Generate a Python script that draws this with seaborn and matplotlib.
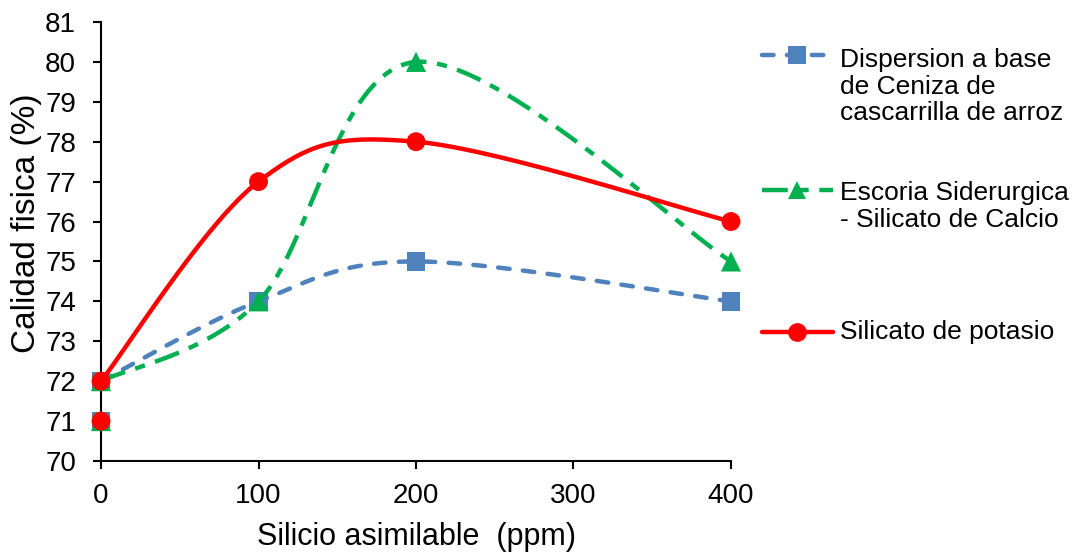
import numpy as np
import pandas as pd
import matplotlib
matplotlib.use("Agg")
import matplotlib.pyplot as plt
from matplotlib.lines import Line2D
import seaborn as sns

# Data
silicio = [0, 100, 200, 400]
ceniza = [72, 74, 75, 74]
escoria = [72, 74, 80, 75]
potasio = [72, 77, 78, 76]
testigo_x = [0]
testigo_y = [71]

series_names = [
    "Dispersion a base\nde Ceniza de\ncascarrilla de arroz",
    "Escoria Siderurgica\n- Silicato de Calcio",
    "Silicato de potasio",
]
colors = ["#4F81BD", "#00B050", "#FF0000"]
markers = ["s", "^", "o"]
linestyles = [(0, (2.6, 3.0)), (0, (5.8, 2.4, 2.3, 2.4)), "-"]


def smooth_excel(ax, xs, ys, n=40):
    # Excel-like smoothed line: cubic Bezier segments in screen space
    pts = ax.transData.transform(np.column_stack([xs, ys]))
    padded = np.vstack([pts[0], pts, pts[-1]])
    out = []
    t = np.linspace(0, 1, n)[:, None]
    for i in range(len(pts) - 1):
        p0, p3 = padded[i + 1], padded[i + 2]
        c1 = p0 + (padded[i + 2] - padded[i]) / 6.0
        c2 = p3 - (padded[i + 3] - padded[i + 1]) / 6.0
        seg = (1 - t) ** 3 * p0 + 3 * (1 - t) ** 2 * t * c1 + 3 * (1 - t) * t ** 2 * c2 + t ** 3 * p3
        out.append(seg if i == 0 else seg[1:])
    curve = ax.transData.inverted().transform(np.vstack(out))
    return curve[:, 0], curve[:, 1]


def main():
    sns.set_style("ticks")
    plt.rcParams["font.family"] = ["Liberation Sans", "DejaVu Sans"]
    plt.rcParams["text.color"] = "black"
    plt.rcParams["axes.labelcolor"] = "black"

    fig = plt.figure(figsize=(10.78, 5.55), dpi=100)
    ax = fig.add_axes([0.0937, 0.1694, 0.5844, 0.7910])
    ax.set_xlim(0, 400)
    ax.set_ylim(70, 81)

    all_y = [ceniza, escoria, potasio]
    for k, ys in enumerate(all_y):
        cx, cy = smooth_excel(ax, silicio, ys)
        df = pd.DataFrame({"x": cx, "y": cy})
        sns.lineplot(data=df, x="x", y="y", sort=False, estimator=None, ax=ax,
                     color=colors[k], linewidth=3.2, linestyle=linestyles[k],
                     dash_capstyle="round" if k == 0 else "butt",
                     clip_on=False, zorder=3 + k)
        pts = pd.DataFrame({"x": silicio + testigo_x, "y": ys + testigo_y})
        sns.scatterplot(data=pts, x="x", y="y", ax=ax, marker=markers[k],
                        s=185 if k != 1 else 210, color=colors[k], edgecolor="none",
                        linewidth=0, clip_on=False, zorder=3.5 + k)

    ax.set_xticks([0, 100, 200, 300, 400])
    ax.set_yticks(range(70, 82))
    ax.tick_params(axis="both", labelsize=20, length=6, width=1.5, color="black",
                   labelcolor="black")
    ax.tick_params(axis="x", pad=10)
    ax.tick_params(axis="y", pad=12)
    for side in ["left", "bottom"]:
        ax.spines[side].set_linewidth(1.5)
        ax.spines[side].set_color("black")
    sns.despine(ax=ax)
    ax.set_xlabel("Silicio asimilable  (ppm)", fontsize=22, labelpad=9)
    ax.set_ylabel("Calidad fisica (%)", fontsize=24)
    ax.yaxis.set_label_coords(-0.094, 0.542)

    # Legend drawn by hand so the handle sits on the first text line
    handle_y = [0.9009, 0.6577, 0.4018]
    text_y = [1 - 86.5 / 555, 1 - 206.5 / 555, 1 - 332 / 555]
    for k in range(3):
        fig.add_artist(Line2D([0.7069, 0.7727], [handle_y[k]] * 2, transform=fig.transFigure,
                              color=colors[k], linewidth=3.2, linestyle=linestyles[k],
                              dash_capstyle="round" if k == 0 else "butt"))
        fig.add_artist(Line2D([0.7393], [handle_y[k]], transform=fig.transFigure,
                              marker=markers[k], markersize=13.5, color=colors[k],
                              markeredgewidth=0, linestyle="none"))
        fig.text(0.779, text_y[k], series_names[k], fontsize=19, va="center", ha="left",
                 linespacing=1.15)

    fig.savefig("out.png", dpi=100)


if __name__ == "__main__":
    main()
